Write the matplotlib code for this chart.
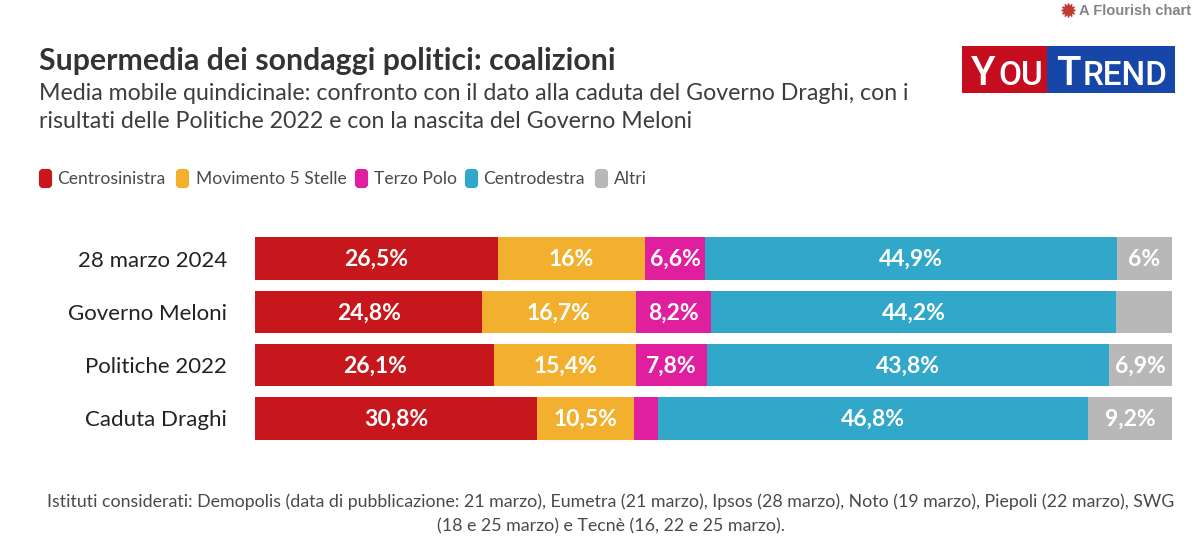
import matplotlib
matplotlib.use("Agg")
import matplotlib.patches
import matplotlib.pyplot
import numpy

FONT = "Lato"
DATES = ["28 marzo 2024", "Governo Meloni", "Politiche 2022", "Caduta Draghi"]
SERIES = ["Centrosinistra", "Movimento 5 Stelle", "Terzo Polo", "Centrodestra", "Altri"]
COLORS = ["#c8161d", "#f3b02f", "#e01f9f", "#31a7ca", "#b8b8b8"]
CENTROSINISTRA = [26.5, 24.8, 26.1, 30.8]
MOVIMENTO = [16.0, 16.7, 15.4, 10.5]
TERZO_POLO = [6.6, 8.2, 7.8, 2.7]
CENTRODESTRA = [44.9, 44.2, 43.8, 46.8]
ALTRI = [6.0, 6.1, 6.9, 9.2]
VALUES = [CENTROSINISTRA, MOVIMENTO, TERZO_POLO, CENTRODESTRA, ALTRI]
HIDDEN = [(1, 4), (3, 2)]
LEGEND_X = [39, 176, 355, 465, 595]
LEGEND_TEXT_X = [57, 196, 374, 483, 614]

matplotlib.pyplot.rcParams["font.family"] = [FONT, "DejaVu Sans"]
figure = matplotlib.pyplot.figure(figsize = (12, 5.5), dpi = 100)

# Overlay in pixel coordinates for the furniture
page = figure.add_axes((0, 0, 1, 1))
page.set_xlim(0, 1200)
page.set_ylim(550, 0)
page.axis("off")

page.text(39, 61, "Supermedia dei sondaggi politici: coalizioni", fontsize = 21.8, fontweight = "bold", color = "#333333", va = "center")
page.text(39, 93, "Media mobile quindicinale: confronto con il dato alla caduta del Governo Draghi, con i", fontsize = 16.65, color = "#3d3d3d", va = "center")
page.text(39, 122, "risultati delle Politiche 2022 e con la nascita del Governo Meloni", fontsize = 16.65, color = "#3d3d3d", va = "center")

# Legend
for name, color, x, textX in zip(SERIES, COLORS, LEGEND_X, LEGEND_TEXT_X):
    page.add_patch(matplotlib.patches.FancyBboxPatch((x + 2, 171), 9, 15, boxstyle = "round,pad=0,rounding_size=2", mutation_aspect = 1, facecolor = color, edgecolor = color, linewidth = 3))
    page.text(textX, 179, name, fontsize = 12.6, color = "#4a4a4a", va = "center")

# Logo
page.add_patch(matplotlib.patches.Rectangle((962, 46), 85, 47, facecolor = "#c60d1f", edgecolor = "none"))
page.add_patch(matplotlib.patches.Rectangle((1047, 46), 128, 47, facecolor = "#1646a8", edgecolor = "none"))
page.text(971, 85, "Y", fontsize = 29, color = "white", fontweight = "medium", va = "baseline", family = ["Roboto"])
page.text(998, 85, "OU", fontsize = 24, color = "white", fontweight = "medium", va = "baseline", family = ["Roboto"])
page.text(1056, 85, "T", fontsize = 29, color = "white", fontweight = "medium", va = "baseline", family = ["Roboto"])
page.text(1083, 85, "REND", fontsize = 24, color = "white", fontweight = "medium", va = "baseline", family = ["Roboto"])

# Flourish credit
page.plot([1068], [10], marker = (12, 1, 0), markersize = 10, color = "#c23a34", linestyle = "None")
page.text(1079, 11, "A Flourish chart", fontsize = 10.6, fontweight = "bold", color = "#858585", va = "center", family = ["Liberation Sans"])

# Footnote
page.text(611, 502, "Istituti considerati: Demopolis (data di pubblicazione: 21 marzo), Eumetra (21 marzo), Ipsos (28 marzo), Noto (19 marzo), Piepoli (22 marzo), SWG", fontsize = 12.8, color = "#4a4a4a", ha = "center", va = "center")
page.text(611, 526, "(18 e 25 marzo) e Tecnè (16, 22 e 25 marzo).", fontsize = 12.8, color = "#4a4a4a", ha = "center", va = "center")

# Stacked bars
axes = figure.add_axes((255 / 1200, 1 - 445 / 550, 917 / 1200, 213 / 550))
axes.set_xlim(0, 100)
axes.set_ylim(3.5, -0.5)
axes.patch.set_alpha(0)
for spine in axes.spines.values():
    spine.set_visible(False)
axes.xaxis.set_visible(False)
axes.set_yticks(range(len(DATES)))
axes.set_yticklabels(DATES, fontsize = 16, color = "#222222")
axes.tick_params(axis = "y", length = 0, pad = 20)

rows = numpy.arange(len(DATES))
left = numpy.zeros(len(DATES))
for s, (name, color, values) in enumerate(zip(SERIES, COLORS, VALUES)):
    values = numpy.array(values)
    axes.barh(rows, values, left = left, height = 0.8, color = color, label = name)
    for r in rows:
        if (r, s) in HIDDEN:
            continue
        label = "{0:g}%".format(values[r]).replace(".", ",")
        axes.text(left[r] + values[r] / 2, r + 0.02, label, color = "white", fontsize = 16.5, fontweight = "bold", ha = "center", va = "center")
    left += values

figure.savefig("out.png", dpi = 100)
